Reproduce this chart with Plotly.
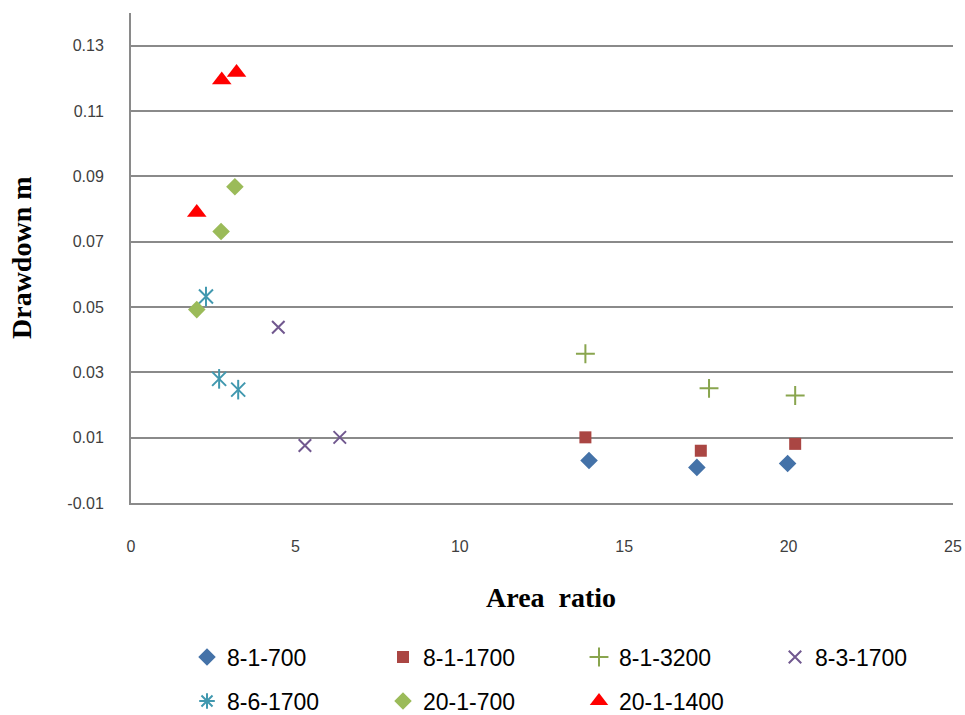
import plotly.graph_objects as go

# ---- data ----
x_8_1_700 = [13.93, 17.21, 19.97]
y_8_1_700 = [0.0030, 0.0009, 0.0021]

x_8_1_1700 = [13.82, 17.33, 20.20]
y_8_1_1700 = [0.0101, 0.0060, 0.0081]

x_8_1_3200 = [13.82, 17.58, 20.20]
y_8_1_3200 = [0.0357, 0.0251, 0.0229]

x_8_3_1700 = [4.48, 5.29, 6.35]
y_8_3_1700 = [0.0438, 0.0076, 0.0101]

x_8_6_1700 = [2.28, 2.68, 3.26]
y_8_6_1700 = [0.0532, 0.0280, 0.0247]

x_20_1_700 = [2.00, 2.74, 3.16]
y_20_1_700 = [0.0492, 0.0731, 0.0868]

x_20_1_1400 = [2.00, 2.76, 3.21]
y_20_1_1400 = [0.0789, 0.1195, 0.1218]

y_tickvals = [-0.01, 0.01, 0.03, 0.05, 0.07, 0.09, 0.11, 0.13]
y_ticktext = ["-0.01", "0.01", "0.03", "0.05", "0.07", "0.09", "0.11", "0.13"]
x_tickvals = [0, 5, 10, 15, 20, 25]
x_ticktext = ["0", "5", "10", "15", "20", "25"]

GRID = "#8a8a8a"
W, H = 965, 715
ML, MR, MT, MB = 131, 12, 13, 212

fig = go.Figure()

def add(x, y, name, symbol, color, size, legend, lw=0, showlegend=True, group=None):
    fig.add_trace(go.Scatter(
        x=x, y=y, mode="markers", name=name, legend=legend,
        showlegend=showlegend, legendgroup=group or name,
        marker=dict(symbol=symbol, color=color, size=size,
                    line=dict(width=lw, color=color)),
        cliponaxis=False,
    ))

add(x_8_1_700, y_8_1_700, "8-1-700", "diamond", "#4472A8", 13.5, "legend")
add(x_8_1_1700, y_8_1_1700, "8-1-1700", "square", "#AA4643", 12, "legend")
add(x_8_1_3200, y_8_1_3200, "8-1-3200", "cross-thin-open", "#89A54E", 13.5, "legend", lw=2)
add(x_8_3_1700, y_8_3_1700, "8-3-1700", "x-thin-open", "#71588F", 12.5, "legend", lw=2)

# 8-6-1700: six-armed asterisk drawn as an x plus a vertical bar
add(x_8_6_1700, y_8_6_1700, "8-6-1700", "x-thin-open", "#4198AF", 14, "legend2", lw=2, showlegend=False)
add(x_8_6_1700, y_8_6_1700, "8-6-1700", "line-ns-open", "#4198AF", 14, "legend2", lw=2, showlegend=False)
fig.add_trace(go.Scatter(
    x=[None], y=[None], mode="markers", name="8-6-1700", legend="legend2",
    legendgroup="8-6-1700",
    marker=dict(symbol="asterisk-open", color="#4198AF", size=13,
                line=dict(width=2, color="#4198AF")),
))
add(x_20_1_700, y_20_1_700, "20-1-700", "diamond", "#9BBB59", 13.5, "legend2")
add(x_20_1_1400, y_20_1_1400, "20-1-1400", "triangle-up", "#FF0000", 17, "legend2")

def py(pix):
    return (H - MB - pix) / (H - MT - MB)

legend_common = dict(
    orientation="h", xref="container", yref="container",
    xanchor="left", yanchor="middle",
    font=dict(family="Liberation Sans", size=23, color="#000000"),
    entrywidth=151, entrywidthmode="pixels",
    bgcolor="rgba(0,0,0,0)", traceorder="normal",
    itemclick=False, itemdoubleclick=False,
)

fig.update_layout(
    width=W, height=H,
    margin=dict(l=ML, r=MR, t=MT, b=MB, autoexpand=False),
    paper_bgcolor="white", plot_bgcolor="white",
    showlegend=True,
    legend=dict(x=187 / W, y=1 - 657 / H, **legend_common),
    legend2=dict(x=187 / W, y=1 - 701 / H, **legend_common),
    xaxis=dict(
        range=[0, 25], tickvals=x_tickvals, ticktext=x_ticktext,
        showgrid=False, zeroline=False, automargin=False,
        showline=True, linecolor=GRID, linewidth=2,
        ticks="", ticklabelstandoff=28,
        tickfont=dict(family="Liberation Sans", size=16, color="#404040"),
    ),
    yaxis=dict(
        range=[-0.01, 0.14], tickvals=y_tickvals, ticktext=y_ticktext,
        showgrid=True, gridcolor=GRID, gridwidth=2, zeroline=False,
        automargin=False,
        showline=True, linecolor=GRID, linewidth=2,
        ticks="", ticklabelstandoff=22,
        tickfont=dict(family="Liberation Sans", size=16, color="#404040"),
    ),
    annotations=[
        dict(text="<b>Area\u00a0 ratio</b>", xref="paper", yref="paper",
             x=(551 - ML) / (W - ML - MR), y=py(597), showarrow=False,
             xanchor="center", yanchor="middle",
             font=dict(family="Liberation Serif", size=28, color="#000000")),
        dict(text="<b>Drawdown m</b>", xref="paper", yref="paper",
             x=(21 - ML) / (W - ML - MR), y=py(258), showarrow=False,
             xanchor="center", yanchor="middle", textangle=-90,
             font=dict(family="Liberation Serif", size=28, color="#000000")),
    ],
)

fig.write_html("out.html", config={"displayModeBar": False},
               post_script="document.body.style.margin='0';")
